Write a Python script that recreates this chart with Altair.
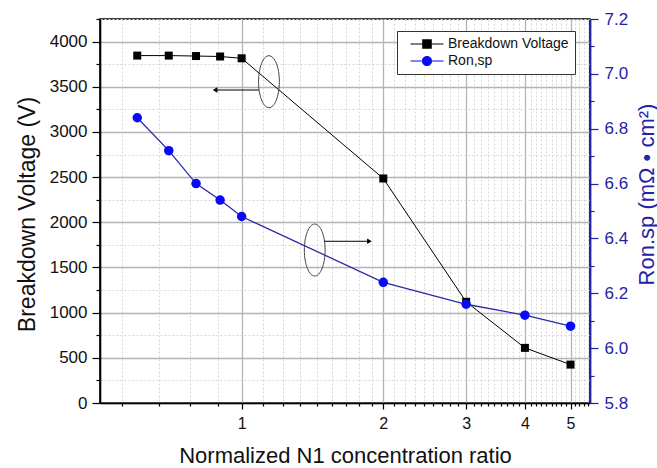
import altair as alt
import pandas as pd

# ---------------- data ----------------
ratio = [0.6, 0.7, 0.8, 0.9, 1, 2, 3, 4, 5]
breakdown_v = [3845, 3845, 3840, 3835, 3815, 2485, 1120, 610, 425]
ron_sp = [6.84, 6.72, 6.60, 6.54, 6.48, 6.24, 6.16, 6.12, 6.08]
series = ["Breakdown Voltage", "Ron,sp"]

x_major = [1, 2, 3, 4, 5]
x_minor = [round(n + k / 9, 4) for n in range(0, 6) for k in range(1, 9)
           if 0.5 < n + k / 9 < 5.5]
x_ticks = sorted(x_major + x_minor)
y_left_ticks = list(range(0, 4251, 250))
y_right_ticks = [round(5.8 + 0.1 * i, 1) for i in range(15)]

# annotation (ellipses + arrows), in data units of x and left y
ell_x = [1.143, 1.43]
ell_y = [3556, 1693]
arrow_x = [1.088, 1.498]
arrow_x2 = [0.878, 1.869]
arrow_y = [3464, 1790]
arrow_dir = ["left", "right"]

df = pd.DataFrame({"x": ratio, "bv": breakdown_v, "ron": ron_sp})
ann = pd.DataFrame({"ex": ell_x, "ey": ell_y, "ax": arrow_x, "ax2": arrow_x2,
                    "ay": arrow_y, "dir": arrow_dir})
leg = pd.DataFrame({"series": series, "x": [1, 1], "bv": [0, 0]})

FONT = "Liberation Sans"
BLUE_AX = "#2323a8"
BLUE_LINE = "#2a2aa6"
BLUE_PT = "#0a0af5"

major_x_test = "indexof([1,2,3,4,5], datum.value) >= 0"
x_axis = alt.Axis(
    values=x_ticks,
    labelExpr=f"{major_x_test} ? format(datum.value, 'd') : ''",
    labelOverlap=False,
    labelFontSize=16, labelColor="#111", labelPadding=6,
    tickColor="black", tickWidth=1.2,
    tickSize={"condition": {"test": major_x_test, "value": 6}, "value": 3},
    domainColor="black", domainWidth=1.6,
    grid=True,
    gridColor={"condition": {"test": major_x_test, "value": "#b4b4b4"}, "value": "#d6d6d6"},
    gridDash={"condition": {"test": major_x_test, "value": []}, "value": [2, 2]},
    gridWidth={"condition": {"test": major_x_test, "value": 1.3}, "value": 1},
    title="Normalized N1 concentration ratio",
    titleFontSize=22, titleFontWeight="normal", titleColor="#111",
    titleX=245, titleY=59, titleAlign="center", titleBaseline="alphabetic",
)
x_scale = alt.Scale(type="log", domain=[0.5, 5.5], nice=False)
x_enc = alt.X("x:Q", scale=x_scale, axis=x_axis)

major_y_test = "datum.value % 500 == 0"
left_axis = alt.Axis(
    values=y_left_ticks,
    labelExpr=f"{major_y_test} ? format(datum.value, 'd') : ''",
    labelOverlap=False,
    labelFontSize=17, labelColor="#111", labelPadding=5,
    tickColor="black", tickWidth=1.2,
    tickSize={"condition": {"test": major_y_test, "value": 8}, "value": 4},
    domainColor="black", domainWidth=1.6,
    grid=True,
    gridColor={"condition": {"test": major_y_test, "value": "#b4b4b4"}, "value": "#d6d6d6"},
    gridDash={"condition": {"test": major_y_test, "value": []}, "value": [2, 2]},
    gridWidth={"condition": {"test": major_y_test, "value": 1.3}, "value": 1},
    title="Breakdown Voltage (V)",
    titleFontSize=23, titleFontWeight="normal", titleColor="#111",
    titleAngle=270, titleX=-66, titleY=195, titleAlign="center",
    titleBaseline="alphabetic",
)
y_scale = alt.Scale(domain=[0, 4250], nice=False, zero=False)
y_left = alt.Y("bv:Q", scale=y_scale, axis=left_axis)

major_r_test = "round(datum.value * 10) % 2 == 0"
right_axis = alt.Axis(
    orient="right",
    values=y_right_ticks,
    labelExpr=f"{major_r_test} ? format(datum.value, '.1f') : ''",
    labelOverlap=False,
    labelFontSize=17, labelColor=BLUE_AX, labelPadding=6,
    tickColor=BLUE_AX, tickWidth=1.2,
    tickSize={"condition": {"test": major_r_test, "value": 8}, "value": 4},
    domainColor=BLUE_AX, domainWidth=1.8,
    grid=False,
    title="Ron.sp (mΩ • cm²)",
    titleFontSize=22, titleFontWeight="normal", titleColor=BLUE_AX,
    titleAngle=270, titleX=63, titleY=175, titleAlign="center",
    titleBaseline="alphabetic",
)
y_right = alt.Y("ron:Q", scale=alt.Scale(domain=[5.8, 7.2], nice=False, zero=False),
                axis=right_axis)

# ---------------- left (breakdown voltage) layer ----------------
base = alt.Chart(df)
bv_line = base.mark_line(color="black", strokeWidth=1).encode(x=x_enc, y=y_left)
bv_pts = base.mark_point(shape="square", filled=True, size=64, color="black",
                         opacity=1).encode(x=x_enc, y=y_left)

ann_base = alt.Chart(ann)
ell = ann_base.mark_point(
    shape="M0,-1A0.4,1,0,1,1,0,1A0.4,1,0,1,1,0,-1Z",
    filled=False, size=2704, color="#444", strokeWidth=1, opacity=1,
).encode(x=alt.X("ex:Q", scale=x_scale, axis=x_axis),
         y=alt.Y("ey:Q", scale=y_scale, axis=left_axis))
arrows = ann_base.mark_rule(color="black", strokeWidth=1).encode(
    x=alt.X("ax:Q", scale=x_scale, axis=x_axis),
    x2="ax2:Q",
    y=alt.Y("ay:Q", scale=y_scale, axis=left_axis),
)
head_l = ann_base.transform_filter("datum.dir == 'left'").mark_point(
    shape="triangle-left", filled=True, size=28, color="black", opacity=1
).encode(x=alt.X("ax2:Q", scale=x_scale, axis=x_axis),
         y=alt.Y("ay:Q", scale=y_scale, axis=left_axis))
head_r = ann_base.transform_filter("datum.dir == 'right'").mark_point(
    shape="triangle-right", filled=True, size=28, color="black", opacity=1
).encode(x=alt.X("ax2:Q", scale=x_scale, axis=x_axis),
         y=alt.Y("ay:Q", scale=y_scale, axis=left_axis))

# legend-only layer (its marks are transparent; the legend shows them)
sq = "M-2.75,-0.09H-0.8V0.09H-2.75Z M0.8,-0.09H2.75V0.09H0.8Z M-0.8,-0.8H0.8V0.8H-0.8Z"
ci = ("M-2.75,-0.09H-0.8V0.09H-2.75Z M0.8,-0.09H2.75V0.09H0.8Z "
      "M-0.85,0A0.85,0.85,0,1,0,0.85,0A0.85,0.85,0,1,0,-0.85,0Z")
legend_def = alt.Legend(
    orient="none", legendX=297, legendY=12, title=None,
    labelFont=FONT, labelFontSize=14, labelColor="#111",
    symbolSize=144, symbolOffset=17, labelOffset=14, symbolStrokeWidth=0,
    padding=6, rowPadding=3, strokeColor="#333", fillColor="white",
    symbolOpacity=1,
)
legend_layer = alt.Chart(leg).mark_point(filled=True, opacity=0).encode(
    x=x_enc, y=y_left,
    color=alt.Color("series:N", scale=alt.Scale(domain=series, range=["black", BLUE_PT]),
                    legend=legend_def),
    shape=alt.Shape("series:N", scale=alt.Scale(domain=series, range=[sq, ci]),
                    legend=legend_def),
)

left = alt.layer(bv_line, bv_pts, ell, arrows, head_l, head_r, legend_layer)

# ---------------- right (Ron,sp) layer ----------------
ron_line = base.mark_line(color=BLUE_LINE, strokeWidth=1.3).encode(x=x_enc, y=y_right)
ron_pts = base.mark_point(shape="circle", filled=True, size=90, color=BLUE_PT,
                          opacity=1).encode(x=x_enc, y=y_right)
right = alt.layer(ron_line, ron_pts)

chart = (
    alt.layer(left, right)
    .resolve_scale(y="independent")
    .properties(
        width=490, height=384,
        padding={"left": 100, "top": 19, "right": 67, "bottom": 65},
        autosize=alt.AutoSizeParams(type="none"),
        background="white",
    )
    .configure_view(stroke="black", strokeWidth=1.6)
    .configure_axis(labelFont=FONT, titleFont=FONT)
    .configure_legend(labelFont=FONT)
)

chart.save("out.html", embed_options={"renderer": "svg", "actions": False})
